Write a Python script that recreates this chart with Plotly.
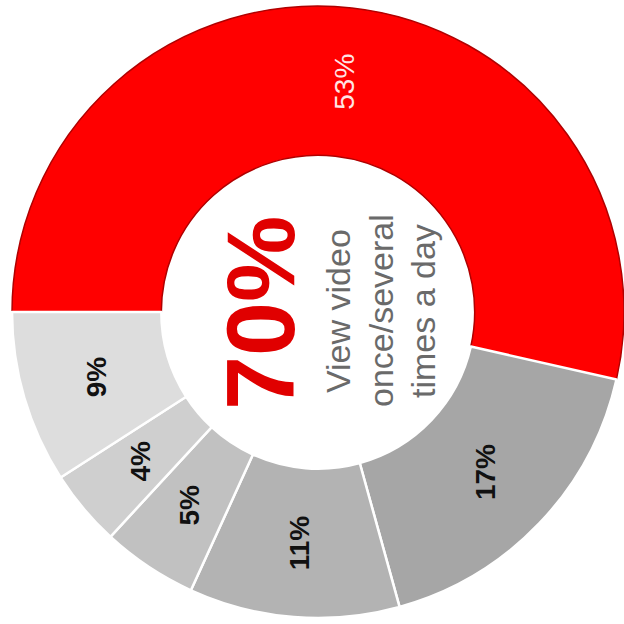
import math
import plotly.graph_objects as go

labels = ["Several times a day", "Once a day", "Few times a week", "Once a week", "Less often", "Never"]
values = [53, 17, 11, 5, 4, 9]
text_labels = ["53%", "17%", "11%", "5%", "4%", "9%"]
colors = ["#FF0000", "#A6A6A6", "#B3B3B3", "#C1C1C1", "#CFCFCF", "#DDDDDD"]
label_colors = ["#FFE4E4", "#111111", "#111111", "#111111", "#111111", "#111111"]
center_value = "70%"
center_lines = ["View video", "once/several", "times a day"]

W = H = 624
cx_px, cy_px, R_px = 318, 312, 306
hole = 0.512
start_deg = 180  # first slice starts at 9 o'clock, going clockwise

fig = go.Figure(go.Pie(
    labels=labels, values=values, hole=hole, sort=False,
    direction="clockwise", rotation=-90,
    marker=dict(colors=colors, line=dict(color=["#B00000"] + ["#FFFFFF"] * 5, width=[1.5] + [2.5] * 5)),
    textinfo="none", hoverinfo="label+percent", showlegend=False,
    domain=dict(x=[max(0, (cx_px - R_px) / W), min(1, (cx_px + R_px) / W)],
                y=[max(0, 1 - (cy_px + R_px) / H), min(1, 1 - (cy_px - R_px) / H)]),
))

total = sum(values)
ann = []
acc = 0.0
r_lab = R_px * (1 + hole) / 2
for v, t, c in zip(values, text_labels, label_colors):
    mid = start_deg - (acc + v / 2) / total * 360
    acc += v
    px = cx_px + r_lab * math.cos(math.radians(mid))
    py = cy_px - r_lab * math.sin(math.radians(mid))
    bold = c == "#111111"
    ann.append(dict(x=px / W, y=1 - py / H, xref="paper", yref="paper",
                    xanchor="center", yanchor="middle",
                    text=("<b>" + t + "</b>") if bold else t,
                    showarrow=False, textangle=-90,
                    font=dict(family="Liberation Sans, Arial", size=28, color=c)))

ann.append(dict(x=260 / W, y=1 - 313 / H, xref="paper", yref="paper",
                xanchor="center", yanchor="middle",
                text="<b>" + center_value + "</b>", showarrow=False, textangle=-90,
                font=dict(family="Liberation Sans, Arial", size=97, color="#E00000")))
for line, lx in zip(center_lines, [338, 381, 423]):
    ann.append(dict(x=lx / W, y=1 - 311 / H, xref="paper", yref="paper",
                    xanchor="center", yanchor="middle",
                    text=line, showarrow=False, textangle=-90,
                    font=dict(family="Liberation Sans, Arial", size=34, color="#6A6A6A")))

fig.update_layout(width=W, height=H, margin=dict(l=0, r=0, t=0, b=0),
                  paper_bgcolor="white", plot_bgcolor="white", annotations=ann)
fig.write_html("out.html", config={"displayModeBar": False},
               post_script="document.body.style.margin='0';")
